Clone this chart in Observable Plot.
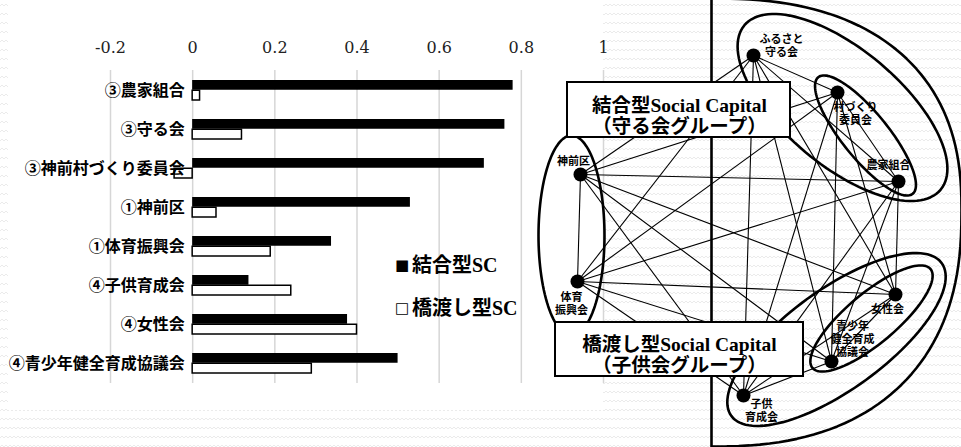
<!DOCTYPE html>
<html><head><meta charset="utf-8">
<script src="https://cdn.jsdelivr.net/npm/d3@7"></script>
<script src="https://cdn.jsdelivr.net/npm/@observablehq/plot@0.6"></script>
<style>
html,body{margin:0;padding:0;}
body{background-color:#fff;background-image:url("data:image/svg+xml,%3Csvg xmlns='http://www.w3.org/2000/svg' width='8' height='9'%3E%3Cpath d='M0 6 L2 4 L4 6 L6 4 L8 6' fill='none' stroke='%23e6e6e6' stroke-width='0.8'/%3E%3C/svg%3E");}
#wrap{position:relative;width:961px;height:447px;overflow:hidden;}
#chartbg{position:absolute;left:8px;top:0;width:595px;height:410px;background:#fff;}
#wrap svg{position:absolute;left:0;top:0;}
.legend{position:absolute;left:395px;top:244px;font-family:"Liberation Serif","Noto Sans CJK JP",serif;font-weight:bold;font-size:20px;line-height:43px;color:#000;}
.legend .sq{font-family:"DejaVu Sans",sans-serif;font-size:15px;display:inline-block;width:17px;vertical-align:2px;}
</style></head><body>
<div id="wrap"><div id="chartbg"></div></div>
<script>
// ---- bar chart data ----
const categories = ["③農家組合","③守る会","③神前村づくり委員会","①神前区","①体育振興会","④子供育成会","④女性会","④青少年健全育成協議会"];
const bonding  = [0.78, 0.76, 0.71, 0.53, 0.338, 0.137, 0.377, 0.50];
const bridging = [0.018, 0.12, -0.044, 0.058, 0.19, 0.24, 0.40, 0.29];
const seriesNames = ["結合型SC", "橋渡し型SC"];
const tickValues = [-0.2, 0, 0.2, 0.4, 0.6, 0.8, 1];
const tickLabels = ["-0.2", "0", "0.2", "0.4", "0.6", "0.8", "1"];

// ---- network data (layout units) ----
const nodeNames  = ["ふるさと守る会","村づくり委員会","農家組合","女性会","青少年健全育成協議会","子供育成会","体育振興会","神前区"];
const nodeLabels = ["ふるさと\n守る会","村づくり\n委員会","農家組合","女性会","青少年\n健全育成\n協議会","子供\n育成会","体育\n振興会","神前区"];
const nodeX  = [753, 837, 898, 895, 831, 743, 577, 580];
const nodeY  = [55, 92, 181, 294, 361, 395, 281, 174];
const labelX = [781, 855, 888, 887, 852, 761, 571, 573];
const labelY = [45, 113, 164, 308, 338, 410, 303, 160];
const edgeFrom = [0,0,0,0,0,0,0, 1,1,1,1,1,1, 2,2,2,2,2, 3,3,3,3, 4,4,4, 5,5, 6];
const edgeTo   = [1,2,3,4,5,6,7, 2,3,4,5,6,7, 3,4,5,6,7, 4,5,6,7, 5,6,7, 6,7, 7];
// group outlines (ellipses)
const ellCX = [571, 842, 865, 836, 871];
const ellCY = [235, 107, 135, 339, 318];
const ellRX = [33, 128, 75, 130, 77];
const ellRY = [100, 58, 23, 50, 25];
const ellAngle = [0, 40, 51, -36, -40];
// big D-shaped outline
const dShape = {cx: 711, cy: 210, rx: 250, ryTop: 212, ryBottom: 236, n: 2.4};
// text boxes
const boxTexts = ["結合型Social Capital\n（守る会グループ）", "橋渡し型Social Capital\n（子供会グループ）"];
const boxX1 = [567, 555], boxX2 = [790, 803], boxY1 = [82, 322], boxY2 = [137, 376];
const boxTextX = [679, 679], boxTextY = [115, 354];

// ---------- bar chart ----------
const rows = categories.map((c, i) => ({name: c, bond: bonding[i], bridge: bridging[i]}));
const half = 10.25;
const bar = Plot.plot({
  width: 961, height: 447,
  marginLeft: 110, marginRight: 358, marginTop: 70, marginBottom: 64,
  style: {background: "transparent", overflow: "visible"},
  x: {domain: [-0.2, 1]},
  y: {domain: categories, paddingInner: 0.48, paddingOuter: 0.21, axis: null},
  marks: [
    Plot.gridX(tickValues, {stroke: "#d6d6d6", strokeOpacity: 1, strokeWidth: 1.5}),
    Plot.axisX({anchor: "top", ticks: tickValues, tickFormat: d => tickLabels[tickValues.indexOf(d)],
      tickSize: 0, tickPadding: 18, fontSize: 16, fontFamily: "DejaVu Serif", fill: "#222", label: null}),
    Plot.barX(rows, {x: "bond", y: "name", fill: "black", insetBottom: half}),
    Plot.barX(rows, {x: "bridge", y: "name", fill: "white", stroke: "black", strokeWidth: 1.5, insetTop: half}),
    Plot.text(rows, {x: () => 0, y: "name", text: "name", textAnchor: "end", dx: -8,
      fontSize: 16, fontWeight: "bold", fontFamily: "Noto Sans CJK JP", fill: "black"})
  ]
});
document.getElementById("wrap").appendChild(bar);

// legend
const legend = document.createElement("div");
legend.className = "legend";
legend.innerHTML = `<div><span class="sq">■</span>${seriesNames[0]}</div><div><span class="sq">□</span>${seriesNames[1]}</div>`;
document.getElementById("wrap").appendChild(legend);

// ---------- network ----------
const nodes = nodeNames.map((n, i) => ({name: n, label: nodeLabels[i], x: nodeX[i], y: nodeY[i], lx: labelX[i], ly: labelY[i]}));
const edges = edgeFrom.map((f, i) => ({x1: nodeX[f], y1: nodeY[f], x2: nodeX[edgeTo[i]], y2: nodeY[edgeTo[i]]}));
const outline = [];
ellCX.forEach((cx, g) => {
  const a = ellAngle[g] * Math.PI / 180;
  for (let t = 0; t <= 360; t += 3) {
    const r = t * Math.PI / 180;
    const ex = ellRX[g] * Math.cos(r), ey = ellRY[g] * Math.sin(r);
    outline.push({g: "e" + g, x: cx + ex * Math.cos(a) - ey * Math.sin(a), y: ellCY[g] + ex * Math.sin(a) + ey * Math.cos(a)});
  }
});
{
  const {cx, cy, rx, ryTop, ryBottom, n} = dShape;
  let first = null;
  for (let t = -90; t <= 90; t += 2) {
    const r = t * Math.PI / 180;
    const c = Math.cos(r), s = Math.sin(r);
    const px = cx + rx * Math.sign(c) * Math.pow(Math.abs(c), 2 / n);
    const py = cy + (s < 0 ? ryTop : ryBottom) * Math.sign(s) * Math.pow(Math.abs(s), 2 / n);
    outline.push({g: "D", x: px, y: py});
    if (first === null) first = {g: "D", x: px, y: py};
  }
  outline.push(first);
}
const boxes = boxTexts.map((t, i) => ({text: t, x1: boxX1[i], x2: boxX2[i], y1: boxY1[i], y2: boxY2[i], tx: boxTextX[i], ty: boxTextY[i]}));

const net = Plot.plot({
  width: 961, height: 447, margin: 0,
  style: {background: "transparent", overflow: "visible"},
  x: {domain: [0, 961], range: [0, 961], axis: null},
  y: {domain: [0, 447], range: [0, 447], axis: null},
  marks: [
    Plot.text(nodes, {x: "lx", y: "ly", text: "label", fontSize: 11, fontWeight: "bold", fontFamily: "Noto Sans CJK JP", lineHeight: 1.2, fill: "black"}),
    Plot.link(edges, {x1: "x1", y1: "y1", x2: "x2", y2: "y2", stroke: "black", strokeWidth: 1.1}),
    Plot.line(outline, {x: "x", y: "y", z: "g", stroke: "black", strokeWidth: 2.6, curve: "linear"}),
    Plot.dot(nodes, {x: "x", y: "y", r: 7, fill: "black"}),
    Plot.rect(boxes, {x1: "x1", x2: "x2", y1: "y1", y2: "y2", fill: "white", stroke: "black", strokeWidth: 2}),
    Plot.text(boxes, {x: "tx", y: "ty", text: "text", fontSize: 19.5, fontWeight: "bold",
      fontFamily: "Liberation Serif, Noto Sans CJK JP", lineHeight: 1.1, fill: "black"})
  ]
});
document.getElementById("wrap").appendChild(net);
</script>
</body></html>
